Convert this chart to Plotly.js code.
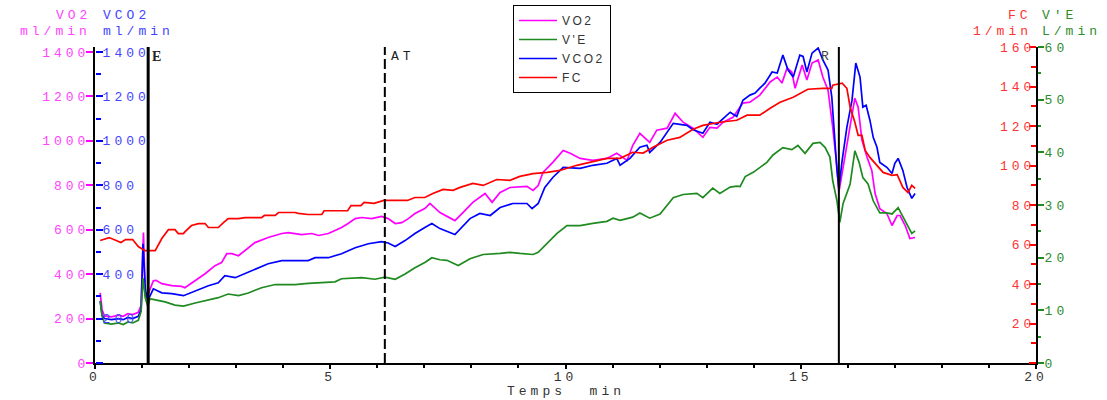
<!DOCTYPE html>
<html>
<head>
<meta charset="utf-8">
<script src="https://cdn.plot.ly/plotly-3.0.1.min.js"></script>
<style>
  html, body { margin: 0; padding: 0; background: #fff; }
  #chart { width: 1107px; height: 400px; }
  .xtick text, .ytick text, .y2tick text, .y3tick text, .y4tick text, .annotation-text { letter-spacing: 4px; }
  .legendtext { letter-spacing: 2.5px; }
</style>
</head>
<body>
<div id="chart"></div>
<script>
// ---- data (time in min) ----
const tVO2 = [0.11,0.15,0.2,0.35,0.5,0.6,0.7,0.8,0.92,0.98,1.03,1.07,1.13,1.24,1.30,1.42,1.63,1.84,1.91,2.13,2.34,2.55,2.69,2.80,2.91,3.05,3.26,3.40,3.68,3.97,4.11,4.39,4.61,4.75,4.96,5.10,5.24,5.38,5.53,5.67,5.88,6.09,6.23,6.38,6.52,6.66,6.80,7.01,7.12,7.33,7.65,7.82,8.03,8.29,8.44,8.61,8.82,9.18,9.31,9.42,9.52,9.73,9.95,10.10,10.31,10.58,10.88,11.09,11.31,11.43,11.58,11.79,11.94,12.16,12.33,12.50,12.71,12.92,13.07,13.22,13.35,13.56,13.77,13.92,14.13,14.35,14.50,14.60,14.71,14.81,14.88,15.03,15.13,15.24,15.37,15.47,15.58,15.68,15.77,15.81,15.90,16.00,16.15,16.22,16.30,16.41,16.51,16.58,16.68,16.83,16.94,17.05,17.11,17.22,17.32,17.43];
const vo2 = [316,240,212,208,215,210,222,218,228,260,587,300,310,370,372,357,348,345,339,370,402,438,452,492,492,483,519,542,565,583,587,578,583,574,583,596,610,628,650,655,650,660,650,628,632,650,673,695,718,677,641,677,723,763,723,768,790,795,777,799,858,903,957,944,921,912,921,944,912,980,1034,993,1048,1057,1124,1084,1057,1016,1061,1057,1084,1106,1170,1174,1206,1265,1287,1260,1328,1310,1237,1341,1274,1350,1364,1287,1228,1061,881,768,881,1003,1192,1152,1003,926,867,763,695,673,619,664,664,619,560,565];

const tVCO2 = [0.11,0.15,0.2,0.35,0.5,0.6,0.7,0.8,0.92,0.98,1.02,1.07,1.12,1.17,1.24,1.42,1.63,1.88,2.13,2.41,2.62,2.76,2.98,3.19,3.40,3.68,3.97,4.25,4.53,4.68,4.96,5.24,5.53,5.81,6.09,6.23,6.38,6.59,6.80,7.01,7.16,7.33,7.65,7.97,8.18,8.40,8.61,8.88,9.18,9.29,9.42,9.56,9.73,9.95,10.31,10.58,10.88,11.09,11.16,11.37,11.58,11.73,11.79,12.01,12.29,12.58,12.71,12.92,13.07,13.22,13.50,13.64,13.77,13.92,14.03,14.13,14.24,14.39,14.50,14.62,14.73,14.84,14.98,15.05,15.13,15.24,15.37,15.47,15.58,15.66,15.73,15.77,15.81,15.88,15.98,16.09,16.17,16.26,16.32,16.39,16.47,16.54,16.62,16.68,16.83,16.94,17.00,17.07,17.17,17.26,17.36,17.43];
const vco2 = [280,215,200,195,200,195,205,200,210,240,537,330,280,300,334,316,312,303,325,348,361,393,384,402,420,447,461,461,461,474,474,492,519,537,546,540,524,551,583,610,628,605,578,650,673,664,700,718,718,695,718,790,835,881,876,890,899,921,890,921,971,980,948,993,1079,1070,1050,1034,1084,1075,1129,1110,1183,1206,1215,1237,1260,1310,1305,1386,1319,1287,1386,1380,1310,1395,1418,1364,1319,1197,971,867,786,912,1061,1183,1350,1287,1152,1160,1093,1016,971,903,881,853,899,921,867,790,741,763];

const tVE = [0.11,0.15,0.2,0.35,0.5,0.6,0.7,0.8,0.92,0.98,1.02,1.07,1.12,1.17,1.28,1.49,1.70,1.88,2.13,2.41,2.62,2.83,3.05,3.26,3.54,3.83,4.25,4.53,4.82,5.10,5.24,5.53,5.67,5.95,6.16,6.38,6.59,6.80,7.01,7.16,7.33,7.48,7.72,7.97,8.25,8.61,8.82,9.03,9.31,9.42,9.61,9.82,10.03,10.31,10.58,10.88,11.01,11.16,11.43,11.58,11.79,12.01,12.29,12.50,12.79,12.92,13.13,13.28,13.50,13.64,13.71,13.82,13.99,14.28,14.41,14.62,14.81,14.94,15.09,15.26,15.41,15.52,15.62,15.68,15.77,15.83,15.90,16.05,16.15,16.24,16.32,16.43,16.54,16.68,16.83,16.94,17.07,17.22,17.36,17.43];
const ve = [11.8,8.9,7.6,7.4,7.6,7.3,7.8,7.6,8.1,9.8,16.1,12.3,10.8,12.2,12.0,11.6,11.0,10.8,11.4,12.0,12.4,13.1,12.8,13.3,14.3,14.9,14.9,15.1,15.2,15.4,16.0,16.1,16.2,15.9,16.3,15.9,16.9,18.1,19.1,20.0,19.6,19.5,18.5,19.8,20.6,20.8,21.0,20.8,20.6,21.0,22.8,24.6,26.1,26.1,26.5,26.9,27.5,27.1,27.7,28.5,27.5,28.3,31.4,32.0,32.2,31.4,33.2,32.2,33.4,33.6,33.5,35.4,36.2,38.1,39.5,40.9,40.5,41.3,39.8,41.7,41.9,40.9,39.1,34.6,30.8,26.7,30.3,34.0,40.3,38.1,35.2,34.0,30.8,28.5,28.5,28.3,29.5,27.1,24.6,25.1];

const tFC = [0.11,0.30,0.45,0.55,0.65,0.80,0.92,1.00,1.06,1.28,1.42,1.56,1.70,1.77,1.88,1.91,2.05,2.20,2.34,2.41,2.62,2.73,2.83,3.05,3.19,3.54,3.60,3.83,3.90,4.25,4.32,4.53,4.82,4.87,5.37,5.44,5.65,5.72,5.93,6.14,6.64,6.80,7.01,7.18,7.40,7.61,7.76,8.03,8.25,8.54,8.82,9.03,9.31,9.61,9.88,10.24,10.52,10.88,11.16,11.43,11.65,11.86,12.16,12.43,12.71,12.92,13.28,13.64,13.86,14.13,14.35,14.56,14.84,15.15,15.47,15.66,15.68,15.88,15.98,16.05,16.15,16.22,16.30,16.37,16.47,16.62,16.75,16.94,17.05,17.17,17.28,17.36,17.43];
const fc = [62.0,63.5,62.0,61.0,62.5,62.5,59.0,58.0,56.9,56.9,63.0,67.5,67.5,65.5,65.5,66.4,69.6,70.6,70.6,68.6,68.6,71.1,73.1,73.1,73.6,73.6,74.7,74.7,76.2,76.2,75.8,75.2,75.2,77.1,77.1,79.7,79.7,81.3,80.8,82.3,82.3,83.8,83.8,85.8,87.9,87.4,88.9,90.9,89.9,92.9,92.5,94.5,95.9,96.5,97.5,100.1,101.5,103.6,103.6,106.7,106.3,109.2,112.8,114.2,118.4,120.3,121.9,122.9,125.5,125.5,129.0,132.0,134.6,138.6,139.1,139.1,140.7,141.7,139.1,129.5,121.9,115.3,115.3,107.6,104.1,100.1,96.5,95.0,95.4,88.9,86.3,89.9,88.4];

// event markers
const eventNames = ['E', 'AT', 'R'];
const eventTimes = [1.13, 6.16, 15.81];

// axis ticks
const xTicks = [0, 5, 10, 15, 20];
const leftTicks = [0, 200, 400, 600, 800, 1000, 1200, 1400];
const vco2TickText = ['', '200', '400', '600', '800', '1000', '1200', '1400'];
const fcTicks = [0, 20, 40, 60, 80, 100, 120, 140, 160];
const fcTickText = ['', '20', '40', '60', '80', '100', '120', '140', '160'];
const veTicks = [0, 10, 20, 30, 40, 50, 60];

// ---- styling / layout ----
const MONO = 'Liberation Mono, Courier New, monospace';
const C = { vo2: '#ff00ff', ve: '#1f8a1f', vco2: '#0000ff', fc: '#ff0000' };
const LBL = { vo2: '#ff44ff', vco2: '#4444ff', fc: '#ff3333', ve: '#2e8b2e' };

const ML = 95, MR = 71, MT = 47, MB = 37, W = 1107, H = 400;
const PW = W - ML - MR, PH = H - MT - MB;
const px = v => (v - ML) / PW;
const py = v => (H - MB - v) / PH;

const traces = [
  { x: tVO2, y: vo2, name: 'VO2', type: 'scatter', mode: 'lines', yaxis: 'y', line: { color: C.vo2, width: 1.7 } },
  { x: tVE, y: ve, name: "V'E", type: 'scatter', mode: 'lines', yaxis: 'y4', line: { color: C.ve, width: 1.7 } },
  { x: tVCO2, y: vco2, name: 'VCO2', type: 'scatter', mode: 'lines', yaxis: 'y2', line: { color: C.vco2, width: 1.7 } },
  { x: tFC, y: fc, name: 'FC', type: 'scatter', mode: 'lines', yaxis: 'y3', line: { color: C.fc, width: 1.7 } }
];

const leftTop = 1400 * PH / (PH - 5);

const shapes = eventTimes.map((t, i) => ({
  type: 'line', xref: 'x', yref: 'paper', x0: t, x1: t, y0: 0, y1: 1,
  line: { color: '#000', width: i === 0 ? 3 : 2, dash: i === 1 ? '10px,4px' : 'solid' }
}));

const annotations = [
  { text: 'VO2', x: px(92), y: py(16), xanchor: 'right' , col: LBL.vo2 },
  { text: 'ml/min', x: px(92), y: py(32), xanchor: 'right', col: LBL.vo2 },
  { text: 'VCO2', x: px(102), y: py(16), xanchor: 'left', col: LBL.vco2 },
  { text: 'ml/min', x: px(102), y: py(32), xanchor: 'left', col: LBL.vco2 },
  { text: 'FC', x: px(1033), y: py(16), xanchor: 'right', col: LBL.fc },
  { text: '1/min', x: px(1033), y: py(32), xanchor: 'right', col: LBL.fc },
  { text: "V'E", x: px(1041), y: py(16), xanchor: 'left', col: LBL.ve },
  { text: 'L/min', x: px(1041), y: py(32), xanchor: 'left', col: LBL.ve },
  { text: 'Temps\u00a0\u00a0min', x: px(566), y: py(391), xanchor: 'center', col: '#333' }
].map(a => ({
  text: a.text, x: a.x, y: a.y, xref: 'paper', yref: 'paper', xanchor: a.xanchor, yanchor: 'middle',
  showarrow: false, font: { family: MONO, size: 13, color: a.col }, borderpad: 0
}));

annotations.push(
  { text: '<b>' + eventNames[0] + '</b>', x: eventTimes[0], xref: 'x', y: py(56), yref: 'paper', xanchor: 'left', xshift: 2, yanchor: 'middle', showarrow: false, font: { family: 'Liberation Serif, serif', size: 14, color: '#222' } },
  { text: eventNames[1], x: eventTimes[1], xref: 'x', y: py(56), yref: 'paper', xanchor: 'left', xshift: 4, yanchor: 'middle', showarrow: false, font: { family: MONO, size: 13, color: '#222' } },
  { text: eventNames[2], x: eventTimes[2], xref: 'x', y: py(56), yref: 'paper', xanchor: 'right', xshift: -4, yanchor: 'middle', showarrow: false, font: { family: MONO, size: 13, color: '#444' } }
);

const tickFont = c => ({ family: MONO, size: 13, color: c });

const layout = {
  width: W, height: H,
  margin: { l: ML, r: MR, t: MT, b: MB, autoexpand: false },
  paper_bgcolor: '#fff', plot_bgcolor: '#fff',
  showlegend: true,
  legend: {
    x: px(513), y: py(5), xanchor: 'left', yanchor: 'top',
    bgcolor: '#fff', bordercolor: '#000', borderwidth: 1,
    font: { family: 'Liberation Sans, Arial, sans-serif', size: 12, color: '#333' },
    tracegroupgap: 0, itemwidth: 38
  },
  xaxis: {
    range: [0, 20], tickmode: 'array', tickvals: xTicks, ticktext: xTicks.map(String),
    showgrid: false, zeroline: false, showline: true, linecolor: '#000', linewidth: 2,
    ticks: 'outside', ticklen: 4, tickwidth: 2, tickcolor: '#000',
    minor: { dtick: 1, tick0: 0, ticks: 'outside', ticklen: 3, tickwidth: 2, tickcolor: '#000', showgrid: false },
    tickfont: tickFont('#333'), ticklabelstandoff: -4, fixedrange: true
  },
  yaxis: {
    range: [0, leftTop], tickmode: 'array', tickvals: leftTicks, ticktext: leftTicks.map(String),
    showgrid: false, zeroline: false, showline: true, linecolor: '#000', linewidth: 2,
    ticks: 'outside', ticklen: 7, tickwidth: 2, tickcolor: C.vo2,
    tickfont: tickFont(LBL.vo2), ticklabelstandoff: -6, fixedrange: true
  },
  yaxis2: {
    range: [0, leftTop], overlaying: 'y', side: 'right', anchor: 'free', position: 0,
    tickmode: 'array', tickvals: leftTicks, ticktext: vco2TickText,
    showgrid: false, zeroline: false, showline: false,
    ticks: 'outside', ticklen: 7, tickwidth: 2, tickcolor: C.vco2,
    minor: { dtick: 100, tick0: 0, ticks: 'outside', ticklen: 5, tickwidth: 2, tickcolor: C.vco2, showgrid: false },
    tickfont: tickFont(LBL.vco2), ticklabelstandoff: -3, fixedrange: true
  },
  yaxis3: {
    range: [0, 160], overlaying: 'y', side: 'left', anchor: 'free', position: 1,
    tickmode: 'array', tickvals: fcTicks, ticktext: fcTickText,
    showgrid: false, zeroline: false, showline: false,
    ticks: 'outside', ticklen: 7, tickwidth: 2, tickcolor: C.fc,
    minor: { dtick: 10, tick0: 0, ticks: 'outside', ticklen: 5, tickwidth: 2, tickcolor: C.fc, showgrid: false },
    tickfont: tickFont(LBL.fc), ticklabelstandoff: -9, fixedrange: true
  },
  yaxis4: {
    range: [0, 60], overlaying: 'y', side: 'right', anchor: 'x',
    tickmode: 'array', tickvals: veTicks, ticktext: veTicks.map(String),
    showgrid: false, zeroline: false, showline: true, linecolor: '#000', linewidth: 2,
    ticks: 'outside', ticklen: 6, tickwidth: 2, tickcolor: C.ve,
    minor: { dtick: 5, tick0: 0, ticks: 'outside', ticklen: 3, tickwidth: 2, tickcolor: C.ve, showgrid: false },
    tickfont: tickFont(LBL.ve), ticklabelstandoff: -2, fixedrange: true
  },
  shapes: shapes,
  annotations: annotations,
  hovermode: false
};

Plotly.newPlot('chart', traces, layout, { staticPlot: true, displayModeBar: false });
</script>
</body>
</html>
